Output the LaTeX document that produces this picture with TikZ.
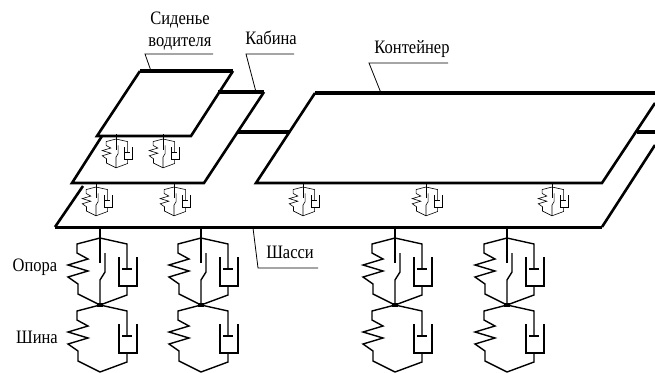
\documentclass[tikz,border=0pt]{standalone}
\usepackage{fontspec}
\setmainfont{Liberation Serif}
\tikzstyle{plate} = [
    draw=black,
    line width=2.6pt
    ]
\tikzstyle{platetop} = [
    draw=black,
    line width=4pt
    ]
\tikzstyle{leader} = [
    draw=black,
    line width=.8pt
    ]
\tikzstyle{caption} = [
    font=\fontsize{16.5}{17}\selectfont,
    inner sep=0pt,
    align=center,
    transform shape,
    yscale=1.15
    ]
\tikzset{
    % spring on the left, damper on the right
    unitbody/.pic={
        \draw (0,0) -- (-23,6) -- (-23,15) -- (-12,21) -- (-32,27) -- (-12,33)
            -- (-32,39) -- (-22,46) -- (-22,56) -- (0,67);
        \draw (0,0) -- (27,6) -- (27,31);
        \draw (22,31) -- (32,31);
        \draw (19,19) -- (19,48) -- (37,48) -- (37,19);
        \draw (27,48) -- (27,57) -- (0,67);
    },
    % stem and broken rod in the middle
    unitrod/.pic={
        \draw (0,-11) -- (0,25);
        \draw (5,15) -- (5,34) -- (0,42) -- (0,67);
    },
    bigunit/.style={line width=1.4pt},
    smallunit/.style={line width=.6pt, scale=.43}
}
\begin{document}
\begin{tikzpicture}[x=1pt,y=-1pt]
\useasboundingbox (0,0) rectangle (655,372);

\coordinate (seatnw) at (140,71);
\coordinate (seatne) at (233,71);
\coordinate (seatse) at (191,136);
\coordinate (seatsw) at (97,136);
\coordinate (cabinn) at (218,92);
\coordinate (cabinne) at (264,92);
\coordinate (cabinse) at (204,183);
\coordinate (cabinsw) at (72,183);
\coordinate (cabinw) at (102,136);
\coordinate (contnw) at (315,93);
\coordinate (contne) at (655,93);
\coordinate (contse) at (602,183);
\coordinate (contsw) at (256,183);
\coordinate (contr) at (655,103);
\coordinate (chasw) at (83,186);
\coordinate (chasl) at (55,227);
\coordinate (chase) at (602,227);
\coordinate (chasr) at (655,145);

% seat
\draw[platetop] (seatnw) -- (seatne);
\draw[plate] (seatnw) -- (seatsw) -- (seatse) -- (seatne);
% cabin
\draw[platetop] (cabinn) -- (cabinne);
\draw[plate] (cabinne) -- (cabinse) -- (cabinsw) -- (cabinw);
\draw[platetop] (238,132) -- (290,132);
% container
\draw[platetop] (contnw) -- (contne);
\draw[plate] (contnw) -- (contsw) -- (contse) -- (contr);
\draw[platetop] (637,132) -- (655,132);
% chassis
\draw[plate] (chasw) -- (chasl);
\draw[line width=3pt] (chasl) -- (chase);
\draw[plate] (chase) -- (chasr);

% small units
\foreach \ux/\uy in {116/139, 163/139, 96/187, 174/187, 303/187, 426/187, 552/187}{
    \pic[smallunit] at (\ux,\uy) {unitbody};
    \pic[smallunit] at (\ux,\uy) {unitrod};
}
% large units
\foreach \ux in {100,201,395,507}{
    \pic[bigunit] at (\ux,238) {unitbody};
    \pic[bigunit] at (\ux,238) {unitrod};
    \pic[bigunit] at (\ux,305) {unitbody};
    \fill (\ux-3,303) rectangle (\ux+3,307);
}

\node[caption] (seatlabel) at (180,31) {Сиденье\\[2pt]водителя};
\node[caption] (cabinlabel) at (271,38) {Кабина};
\node[caption] (contlabel) at (412,49) {Контейнер};
\node[caption] (chaslabel) at (290,252) {Шасси};
\node[caption] (poplabel) at (35,267) {Опора};
\node[caption] (tyrelabel) at (37,337) {Шина};

\draw[leader] (213,54) -- (145,54) -- (151,71);
\draw[leader] (294,54) -- (246,54) -- (256,92);
\draw[leader] (448,63) -- (369,63) -- (381,93);
\draw[leader] (253,228) -- (258,268) -- (318,268);
\end{tikzpicture}
\end{document}
